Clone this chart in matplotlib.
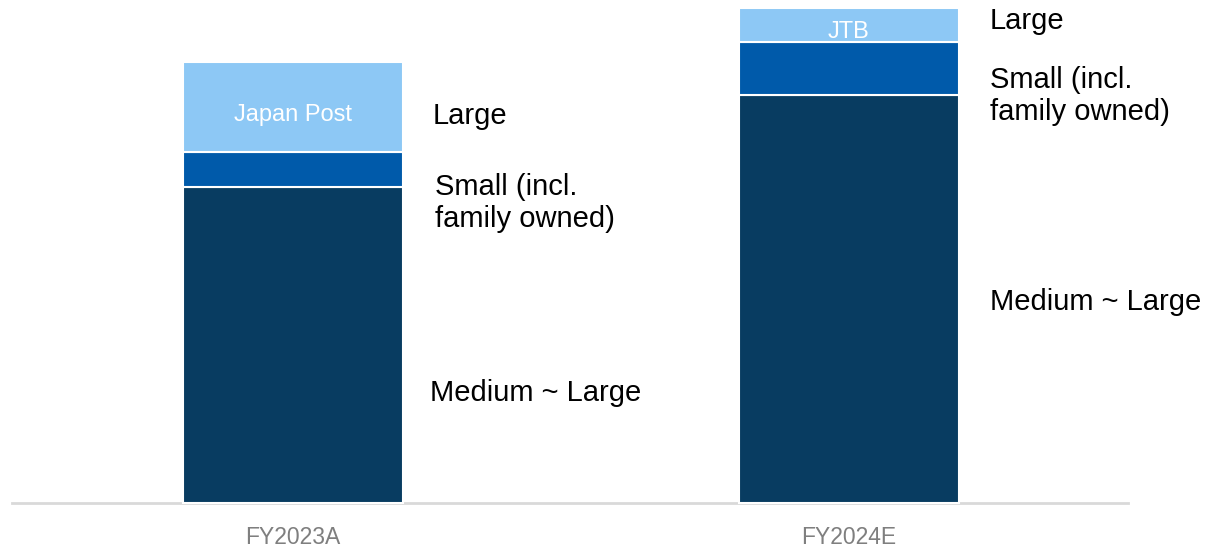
import matplotlib.pyplot as plt
import numpy as np

plt.rcParams['font.family'] = ['Liberation Sans', 'DejaVu Sans']

categories = ['FY2023A', 'FY2024E']
# stacked segment heights (arbitrary units)
medium_large = [316, 408]
small = [35, 53]
large = [90, 34]
large_names = ['Japan Post', 'JTB']

seg_labels = ['Medium ~ Large', 'Small (incl.\nfamily owned)', 'Large']
colors = ['#083C61', '#005AAA', '#8DC8F5']

fig = plt.figure(figsize=(12.07, 5.51), dpi=100)
ax = fig.add_axes([0, 0, 1, 1])

x = np.arange(len(categories))
w = 0.396
bottom = np.zeros(len(categories))
for vals, c in zip([medium_large, small, large], colors):
    ax.bar(x, vals, w, bottom=bottom, color=c, edgecolor='white', linewidth=1.5)
    bottom += np.array(vals)

# names inside the top segment
top_base = np.array(medium_large) + np.array(small)
for i, name in enumerate(large_names):
    ax.text(x[i], top_base[i] + large[i] / 2 - 13.5, name, color='white',
            fontsize=17, ha='center', va='baseline')

# segment labels to the right of each bar
label_x = [[430, 435, 433], [990, 990, 990]]
label_y = [[393, 203, 116], [302, 96, 21]]  # pixel rows from top
for i in range(len(categories)):
    for j, lab in enumerate(seg_labels):
        ax.text((label_x[i][j] - 293) / 556, 503 - label_y[i][j], lab,
                fontsize=21, ha='left', va='center', linespacing=1.2,
                color='black')

ax.axhline(0, xmin=12 / 1207, xmax=1128 / 1207, color='#D9D9D9', lw=2, zorder=0)

for i, cat in enumerate(categories):
    ax.text(x[i], 503 - 538, cat, fontsize=16.5, color='#7F7F7F',
            ha='center', va='center')

ax.set_xlim(-293 / 556, 1 + (1207 - 849) / 556)
ax.set_ylim(-48, 503)
ax.axis('off')

fig.savefig('out.png', dpi=100)
